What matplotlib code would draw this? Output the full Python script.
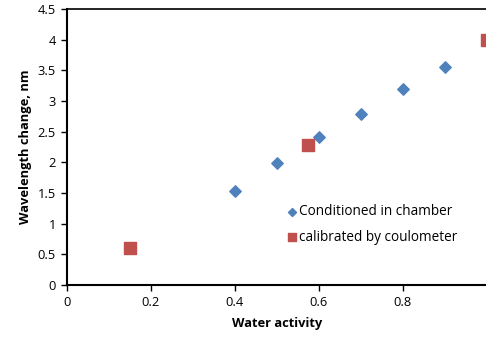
import matplotlib
matplotlib.use("Agg")
import matplotlib.pyplot as plt

# chamber-conditioned samples
aw_chamber = [0.4, 0.5, 0.6, 0.7, 0.8, 0.9]
shift_chamber = [1.54, 1.99, 2.42, 2.79, 3.20, 3.56]

# coulometer-calibrated samples
aw_coul = [0.15, 0.573, 1.0]
shift_coul = [0.60, 2.28, 4.0]

xticks = [0, 0.2, 0.4, 0.6, 0.8]
yticks = [0, 0.5, 1, 1.5, 2, 2.5, 3, 3.5, 4, 4.5]

plt.rcParams['font.family'] = ['Open Sans', 'DejaVu Sans']

W, H = 486, 337
fig = plt.figure(figsize=(W / 100, H / 100), dpi=100)
# right edge of the plot area sits just past the image border
left, right, top, bottom = 67, 487, 9, 285
ax = fig.add_axes([left / W, 1 - bottom / H, (right - left) / W, (bottom - top) / H])

ax.scatter(aw_chamber, shift_chamber, marker='D', s=34, color='#4F81BD',
           label='Conditioned in chamber', zorder=3, clip_on=False)
ax.scatter(aw_coul, shift_coul, marker='s', s=64, color='#C0504D',
           label='calibrated by coulometer', zorder=3, clip_on=False)

ax.set_xlim(0, 1)
ax.set_ylim(0, 4.5)
ax.set_xticks(xticks)
ax.set_xticklabels([f'{t:g}' for t in xticks])
ax.set_yticks(yticks)
ax.set_yticklabels([f'{t:g}' for t in yticks])
ax.tick_params(direction='out', length=4, width=1, color='black', pad=4,
               labelsize=9.3)

for side in ['left', 'bottom']:
    ax.spines[side].set_linewidth(1.5)
ax.spines['right'].set_visible(False)
ax.spines['top'].set_linewidth(1.2)

ax.set_xlabel('Water activity', fontweight='bold', fontsize=9.3, labelpad=6)
ax.set_ylabel('Wavelength change, nm', fontweight='bold', fontsize=9.3, labelpad=4)

ax.legend(loc='upper left', bbox_to_anchor=(0.506, 0.312), frameon=False,
          handletextpad=0.0, handlelength=1.0, labelspacing=0.75, fontsize=9.8,
          markerscale=0.7, borderaxespad=0)

fig.savefig('out.png', dpi=100)
